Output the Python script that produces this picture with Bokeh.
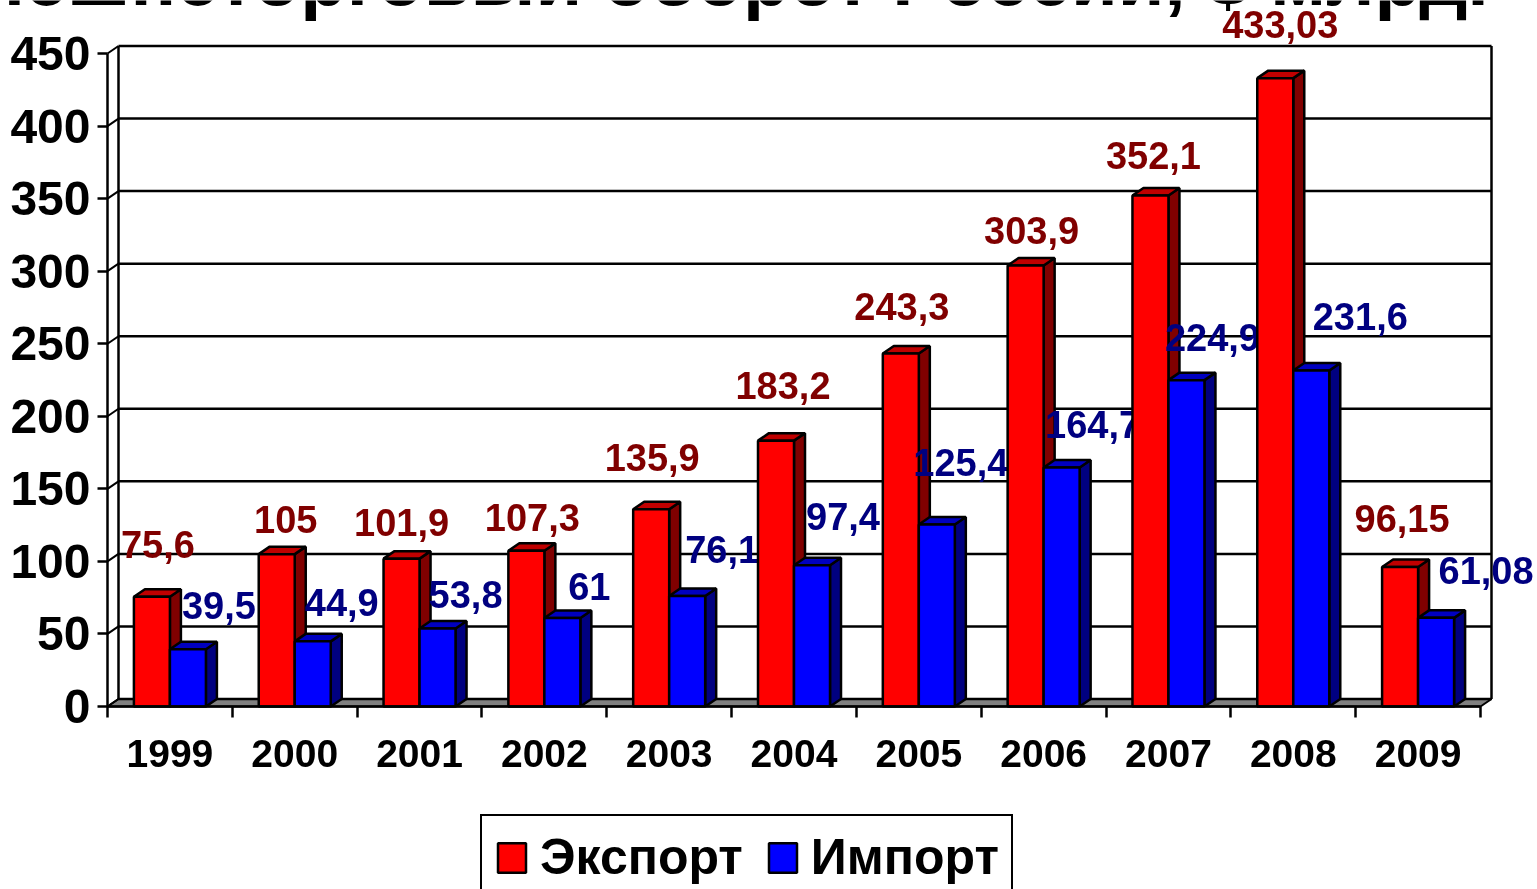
from bokeh.plotting import figure
from bokeh.models import (Range1d, FixedTicker, Label, Legend, LegendItem, NumeralTickFormatter)
from bokeh.core.properties import value
from bokeh.embed import file_html
from bokeh.resources import INLINE

# ---------- data ----------
years = [1999, 2000, 2001, 2002, 2003, 2004, 2005, 2006, 2007, 2008, 2009]
export_values = [75.6, 105, 101.9, 107.3, 135.9, 183.2, 243.3, 303.9, 352.1, 433.03, 96.15]
import_values = [39.5, 44.9, 53.8, 61, 76.1, 97.4, 125.4, 164.7, 224.9, 231.6, 61.08]
export_labels = ["75,6", "105", "101,9", "107,3", "135,9", "183,2", "243,3", "303,9", "352,1", "433,03", "96,15"]
import_labels = ["39,5", "44,9", "53,8", "61", "76,1", "97,4", "125,4", "164,7", "224,9", "231,6", "61,08"]
y_ticks = [0, 50, 100, 150, 200, 250, 300, 350, 400, 450]
title_text = "Внешнеторговый оборот России, $ млрд."

# ---------- layout (pixels of the picture) ----------
W, H = 1537, 889
LEFT, BOTTOM_PX, TOP450_PX, RIGHT_FRONT = 107, 706, 53, 1480
PX_X = (RIGHT_FRONT - LEFT) / 11
PX_Y = (BOTTOM_PX - TOP450_PX) / 450
DX = 11 / PX_X          # depth of the 3-D effect in x units
DY = 7.5 / PX_Y         # depth of the 3-D effect in y units
BW = 36 / PX_X          # width of a bar
x0 = years[0] - 0.5
x1 = years[-1] + 0.5

# manual label placement: centre offset from the bar (px, +right) and gap above the bar top (px)
export_lab_dx = [6, 9, 0, 6, 1, 7, 1, 6, 3, 5, 2]
export_lab_gap = [38, 21, 22, 19, 38, 41, 33, 21, 26, 40, 34]
import_lab_dx = [31, 29, 28, 27, 35, 31, 24, 31, 26, 49, 50]
import_lab_gap = [30, 25, 20, 17, 33, 35, 48, 29, 29, 40, 33]
BASE_FIX = 14

p = figure(width=W, height=H, output_backend="svg", toolbar_location=None,
           x_range=Range1d(x0 - LEFT / PX_X, x0 + (W - LEFT) / PX_X),
           y_range=Range1d(-(H - BOTTOM_PX) / PX_Y, BOTTOM_PX / PX_Y),
           min_border_left=0, min_border_right=0, min_border_top=0, min_border_bottom=0,
           background_fill_color="white", border_fill_color="white")
p.outline_line_color = None
p.grid.visible = False
p.styles = {"position": "fixed", "left": "0px", "top": "0px"}

# axes
ya = p.yaxis[0]
ya.fixed_location = x0
ya.bounds = (0, 450)
ya.ticker = FixedTicker(ticks=y_ticks)
ya.axis_line_width = 2.5
ya.axis_line_color = "black"
ya.major_tick_line_color = "black"
ya.major_tick_line_width = 2.5
ya.major_tick_in = 0
ya.major_tick_out = 10
ya.minor_tick_line_color = None
ya.major_label_standoff = 7
ya.major_label_text_font = "Liberation Sans"
ya.major_label_text_font_style = "bold"
ya.major_label_text_font_size = "48px"
ya.major_label_text_color = "black"

xa = p.xaxis[0]
xa.fixed_location = 0
xa.bounds = (x0, x1)
xa.ticker = FixedTicker(ticks=years, minor_ticks=[x0 + i for i in range(len(years) + 1)])
xa.formatter = NumeralTickFormatter(format="0")
xa.axis_line_width = 2.5
xa.axis_line_color = "black"
xa.major_tick_line_color = None
xa.major_tick_in = 0
xa.major_tick_out = 0
xa.minor_tick_line_color = "black"
xa.minor_tick_line_width = 2.5
xa.minor_tick_in = 0
xa.minor_tick_out = 11
xa.major_label_standoff = 22
xa.major_label_text_font = "Liberation Sans"
xa.major_label_text_font_style = "bold"
xa.major_label_text_font_size = "39px"
xa.major_label_text_color = "black"

# floor, back wall, grid
p.patch([x0, x0 + DX, x1 + DX, x1], [0, DY, DY, 0], fill_color="#808080", line_color="black", line_width=2)
p.segment(x0=[x0 + DX] * len(y_ticks), x1=[x1 + DX] * len(y_ticks),
          y0=[t + DY for t in y_ticks], y1=[t + DY for t in y_ticks],
          line_color="black", line_width=2.5)
p.segment(x0=[x0] * len(y_ticks), x1=[x0 + DX] * len(y_ticks),
          y0=y_ticks, y1=[t + DY for t in y_ticks], line_color="black", line_width=2)
p.segment(x0=[x0 + DX, x1 + DX], x1=[x0 + DX, x1 + DX], y0=[DY, DY], y1=[y_ticks[-1] + DY] * 2,
          line_color="black", line_width=2.5)


def bar3d(xl, v, front, side, top):
    xr = xl + BW
    p.patch([xr, xr + DX, xr + DX, xr], [0, DY, v + DY, v], fill_color=side, line_color="black", line_width=2.5)
    p.patch([xl, xl + DX, xr + DX, xr], [v, v + DY, v + DY, v], fill_color=top, line_color="black", line_width=2.5)
    return p.vbar(x=[xl + BW / 2], width=BW, bottom=0, top=[v], fill_color=front, line_color="black", line_width=2.5)


def bar_label(x, v, s, color, dx, gap):
    p.text(x=[x], y=[v], text=[s], text_color=color, text_font=value("Liberation Sans"),
           text_font_style="bold", text_font_size="38px", text_align="center",
           text_baseline="alphabetic", x_offset=dx, y_offset=-(gap + BASE_FIX))


r_exp = r_imp = None
for i, yr in enumerate(years):
    r_exp = bar3d(yr - BW, export_values[i], "#FF0000", "#800000", "#C00000")
    r_imp = bar3d(yr, import_values[i], "#0000FF", "#000080", "#0000C0")
    bar_label(yr - BW / 2, export_values[i], export_labels[i], "#800000", export_lab_dx[i], export_lab_gap[i])
    bar_label(yr + BW / 2, import_values[i], import_labels[i], "#000080", import_lab_dx[i], import_lab_gap[i])

# title, cut off by the top of the picture
p.add_layout(Label(x=1488, y=H + 22, x_units="screen", y_units="screen", text=title_text,
                   text_font="Liberation Sans", text_font_style="bold", text_font_size="76px",
                   text_align="right", text_baseline="alphabetic", text_color="black"))

legend = Legend(items=[LegendItem(label="Экспорт", renderers=[r_exp]), LegendItem(label="Импорт", renderers=[r_imp])],
                orientation="horizontal", location=(480, -11),
                label_text_font="Liberation Sans", label_text_font_style="bold",
                label_text_font_size="50px", label_text_color="black",
                glyph_width=35, glyph_height=37, label_standoff=11, spacing=22, padding=12, margin=0,
                border_line_color="black", border_line_alpha=1, border_line_width=2.5, background_fill_alpha=1)
p.add_layout(legend)

open("out.html", "w").write(file_html(p, INLINE))
